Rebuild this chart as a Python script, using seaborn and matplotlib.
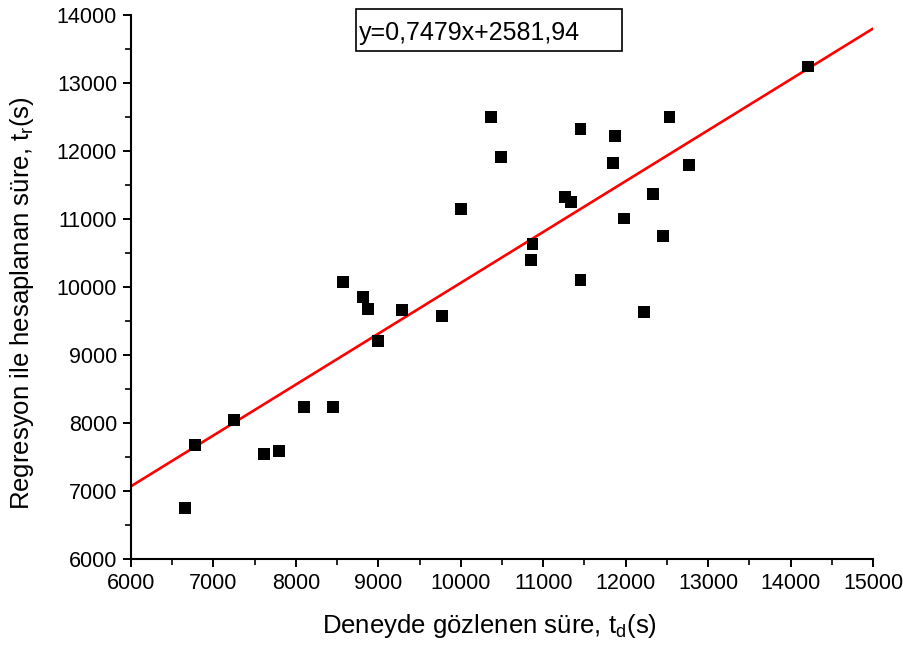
import numpy as np
import pandas as pd
import matplotlib
matplotlib.use("Agg")
import matplotlib.pyplot as plt
from matplotlib.patches import Rectangle
from matplotlib.ticker import MultipleLocator
import seaborn as sns

# observed (t_d) vs regression (t_r) durations, seconds
t_observed = [6655, 6776, 7249, 7613, 7795, 8099, 8450, 8572, 8815, 8875,
              8996, 9287, 9772, 10003, 10367, 10488, 11450, 11871, 12530, 11843,
              12769, 11268, 11334, 12332, 11980, 10868, 10852, 11450, 12453, 12226,
              14212]
t_regression = [6750, 7676, 8044, 7544, 7588, 8235, 8235, 10074, 9853, 9676,
                9206, 9662, 9574, 11147, 12500, 11912, 12319, 12216, 12496, 11819,
                11794, 11324, 11246, 11363, 11010, 10628, 10397, 10107, 10750, 9632,
                13240]

slope = 0.7479
intercept = 2581.94
line_x = [6000, 15000]

df = pd.DataFrame({"td": t_observed, "tr": t_regression})
fit = pd.DataFrame({"x": line_x})
fit["y"] = slope * fit["x"] + intercept

sns.set_theme(style="ticks")
plt.rcParams["font.family"] = ["Liberation Sans", "DejaVu Sans"]
plt.rcParams["mathtext.fontset"] = "custom"
plt.rcParams["mathtext.rm"] = "Liberation Sans"
plt.rcParams["mathtext.it"] = "Liberation Sans:italic"
plt.rcParams["text.color"] = "black"
plt.rcParams["axes.labelcolor"] = "black"

fig = plt.figure(figsize=(9.04, 6.55), dpi=100)
ax = fig.add_axes([0.1449, 0.1466, 0.8208, 0.8305])

sns.lineplot(data=fit, x="x", y="y", color="red", linewidth=1.9, ax=ax, zorder=2)
sns.scatterplot(data=df, x="td", y="tr", marker="s", s=70, color="black",
                edgecolor="none", ax=ax, zorder=3)

ax.set_xlim(6000, 15000)
ax.set_ylim(6000, 14000)
ax.xaxis.set_major_locator(MultipleLocator(1000))
ax.xaxis.set_minor_locator(MultipleLocator(500))
ax.yaxis.set_major_locator(MultipleLocator(1000))
ax.yaxis.set_minor_locator(MultipleLocator(500))

for side in ["top", "right"]:
    ax.spines[side].set_visible(False)
for side in ["left", "bottom"]:
    ax.spines[side].set_linewidth(1.5)
    ax.spines[side].set_color("black")

ax.tick_params(which="major", direction="out", length=6, width=1.4,
               labelsize=15.5, colors="black", pad=4)
ax.tick_params(which="minor", direction="out", length=4, width=1.2, colors="black")

ax.set_xlabel("Deneyde gözlenen süre, t$_\\mathregular{d}$(s)", fontsize=18.5, color="black")
ax.set_ylabel("Regresyon ile hesaplanan süre, t$_\\mathregular{r}$(s)", fontsize=18.5, color="black")
ax.xaxis.set_label_coords(0.483, -0.098)
ax.yaxis.set_label_coords(-0.128, 0.47)

# equation box
ax.add_patch(Rectangle((0.303, 0.9344), 0.3585, 0.0766, transform=ax.transAxes,
                       facecolor="white", edgecolor="black", linewidth=1.2,
                       clip_on=False, zorder=4))
ax.text(0.3075, 0.966, "y=0,7479x+2581,94", transform=ax.transAxes,
        fontsize=18, va="center", ha="left", color="black", zorder=5)

fig.savefig("out.png", dpi=100)
